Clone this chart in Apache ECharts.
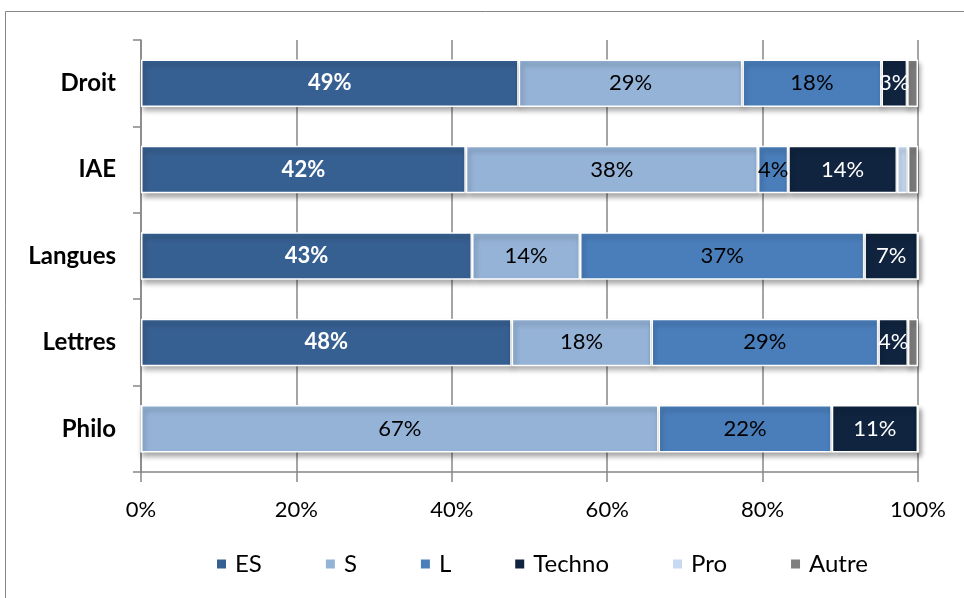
<!DOCTYPE html>
<html>
<head>
<meta charset="utf-8">
<script src="https://cdn.jsdelivr.net/npm/echarts@6/dist/echarts.min.js"></script>
<style>html,body{margin:0;padding:0;background:#fff}#c{width:964px;height:598px}</style>
</head>
<body>
<div id="c"></div>
<script>
const categories = ['Droit', 'IAE', 'Langues', 'Lettres', 'Philo'];
const seriesNames = ['ES', 'S', 'L', 'Techno', 'Pro', 'Autre'];
const ES     = [48.6, 41.8, 42.6, 47.7, 0];
const S      = [28.8, 37.6, 13.9, 18.0, 66.6];
const L      = [17.9, 3.9, 36.6, 29.2, 22.3];
const Techno = [3.3, 14.0, 6.9, 3.8, 11.1];
const Pro    = [0, 1.4, 0, 0, 0];
const Autre  = [1.4, 1.3, 0, 1.3, 0];
const xTicks = [0, 20, 40, 60, 80, 100];

const values = [ES, S, L, Techno, Pro, Autre];
const colors = ['#376092', '#95B3D7', '#4A7EBB', '#10243F', '#C6D9F1', '#7F7F7F'];
const labelColors = ['#fff', '#000', '#000', '#fff', null, null];
const FONT = 'Lato, "Open Sans", sans-serif';

const chart = echarts.init(document.getElementById('c'), null, {renderer: 'canvas'});
const series = seriesNames.map((name, i) => ({
  name: name,
  type: 'bar',
  stack: 'total',
  barWidth: '55%',
  data: values[i],
  itemStyle: {
    color: colors[i],
    borderColor: '#fff',
    borderWidth: 1.5,
    shadowColor: 'rgba(0,0,0,0.35)',
    shadowBlur: 5,
    shadowOffsetX: 2,
    shadowOffsetY: 4
  },
  label: labelColors[i] ? {
    show: true,
    position: 'inside',
    color: labelColors[i],
    fontFamily: FONT,
    fontSize: 22,
    fontWeight: i === 0 ? 'bold' : 'normal',
    formatter: p => p.value > 0 ? Math.round(p.value) + '%' : ''
  } : {show: false}
}));

chart.setOption({
  animation: false,
  backgroundColor: '#fff',
  graphic: [{
    type: 'rect',
    shape: {x: 5.5, y: 11.5, width: 1000, height: 1000},
    style: {fill: 'none', stroke: '#868686', lineWidth: 1},
    z: -10
  }],
  grid: {left: 141, right: 46, top: 40, bottom: 126, containLabel: false},
  legend: {
    data: seriesNames,
    bottom: 17,
    left: 210,
    itemWidth: 11,
    itemHeight: 11,
    itemGap: 62,
    icon: 'rect',
    textStyle: {fontFamily: FONT, fontSize: 24, color: '#000', padding: [0, 0, 0, 3]}
  },
  xAxis: {
    type: 'value',
    min: 0,
    max: 100,
    interval: 20,
    axisLine: {show: true, lineStyle: {color: '#878787', width: 1.5}},
    axisTick: {show: true, length: 10, lineStyle: {color: '#878787', width: 1.5}},
    splitLine: {show: true, lineStyle: {color: '#878787', width: 1.5}},
    axisLabel: {
      margin: 27,
      fontFamily: FONT,
      fontSize: 22,
      color: '#000',
      formatter: v => xTicks.indexOf(v) >= 0 ? v + '%' : ''
    }
  },
  yAxis: {
    type: 'category',
    data: categories,
    inverse: true,
    axisLine: {show: true, lineStyle: {color: '#878787', width: 1.5}},
    axisTick: {show: true, length: 8, lineStyle: {color: '#878787', width: 1.5}},
    axisLabel: {
      margin: 25,
      fontFamily: FONT,
      fontSize: 24,
      fontWeight: 'bold',
      color: '#000'
    }
  },
  series: series
});
</script>
</body>
</html>
